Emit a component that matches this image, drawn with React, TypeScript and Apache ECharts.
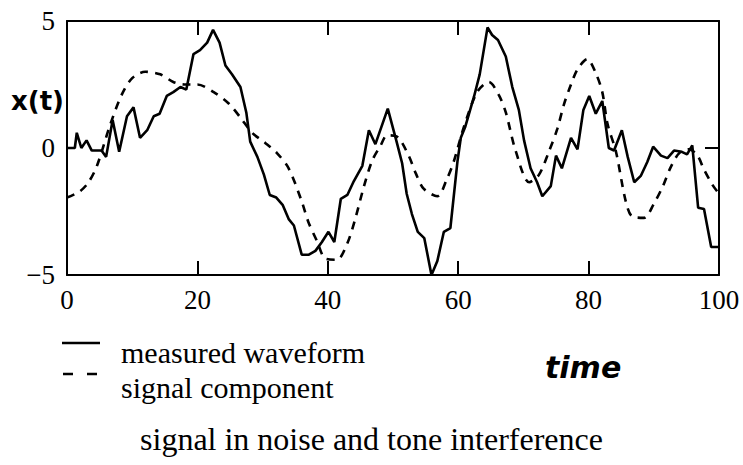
import React, { useEffect, useRef } from "react";
import * as echarts from "echarts";

const measuredT = [0, 1.2, 1.5, 2.2, 3, 3.8, 5.3, 6, 7, 8, 9.2, 10.2, 11.2, 12.3, 13.3, 14.2, 15.3, 16.3, 17.4, 18.3, 19.4, 20.4, 21.5, 22.4, 23.4, 24.3, 25.3, 26.6, 27.5, 28.1, 29.2, 30.2, 31.1, 32.1, 33.1, 34, 34.8, 36, 37.1, 38.1, 39.1, 40.1, 41, 42, 43, 44, 45.3, 46.3, 47.3, 49.2, 50.6, 51.4, 52.1, 52.9, 53.8, 54.8, 55.9, 56.8, 57.8, 58.8, 59.9, 60.4, 61.1, 62.4, 63.3, 64.5, 65.2, 66.1, 67.3, 68.3, 69.3, 70.1, 71.1, 72.1, 72.9, 74.2, 75, 75.9, 77.3, 78.3, 79.2, 80.1, 81.1, 82.1, 83.1, 83.9, 85.1, 86, 87, 88, 89, 89.9, 91.1, 92.1, 93.1, 94.3, 95.1, 95.9, 96.8, 97.7, 98.8, 100];
const measuredV = [0, 0, 0.6, 0, 0.3, -0.1, -0.1, -0.35, 1.1, -0.15, 1.25, 1.6, 0.4, 0.7, 1.25, 1.35, 2.05, 2.2, 2.4, 2.3, 3.7, 3.85, 4.15, 4.65, 4.15, 3.25, 2.9, 2.4, 1.4, 0.25, -0.35, -1.05, -1.85, -1.95, -2.25, -2.8, -3.05, -4.2, -4.2, -4.05, -3.7, -3.3, -3.7, -2.0, -1.85, -1.3, -0.7, 0.7, 0.15, 1.55, 0.2, -0.6, -1.8, -2.6, -3.3, -3.55, -5.0, -4.45, -3.3, -3.15, -0.5, 0.4, 0.85, 2.0, 2.9, 4.75, 4.45, 4.25, 3.6, 2.4, 1.5, 0.3, -0.8, -1.35, -1.9, -1.5, -0.3, -0.8, 0.4, -0.05, 1.5, 2.05, 1.35, 1.85, 0.0, -0.1, 0.7, -0.35, -1.35, -1.1, -0.55, 0.05, -0.3, -0.4, -0.1, -0.15, -0.25, 0.1, -2.35, -2.4, -3.9, -3.9];

const signalT = [0, 2, 3.3, 4.6, 6.6, 8.4, 10, 12, 14.3, 16.3, 18, 20, 22.5, 24.8, 26.6, 28.4, 30.4, 32.2, 34, 36, 37, 38.4, 39.6, 41.4, 43, 44.2, 45.5, 46.8, 48.1, 49.1, 50.6, 52.4, 53.5, 54.7, 56.8, 58.3, 59.3, 60.9, 62.9, 64.7, 66.2, 67.3, 68.8, 70.9, 72.4, 73.9, 75.2, 76.2, 77.3, 78.3, 79.8, 81.1, 82.1, 82.9, 84.2, 85.7, 86.7, 88.5, 90, 91.4, 92.6, 93.9, 95.4, 96.7, 97.7, 99, 100];
const signalV = [-1.95, -1.7, -1.35, -0.7, 0.9, 2.1, 2.75, 3.0, 2.9, 2.6, 2.5, 2.5, 2.2, 1.75, 1.2, 0.6, 0.2, -0.2, -0.8, -2.1, -2.9, -3.7, -4.35, -4.4, -3.75, -2.8, -1.55, -0.5, 0.1, 0.5, 0.45, -0.3, -1.0, -1.6, -1.9, -1.2, -0.55, 0.85, 2.2, 2.6, 2.1, 1.4, -0.1, -1.35, -1.05, -0.15, 0.75, 1.7, 2.5, 3.1, 3.5, 2.95, 2.2, 0.95, -0.15, -2.1, -2.7, -2.75, -2.2, -1.5, -0.75, -0.2, -0.05, -0.3, -0.85, -1.45, -1.8];

const xTicks = [0, 20, 40, 60, 80, 100];
const yTicks = [-5, 0, 5];

const legendNames = ["measured waveform", "signal component"];
const titleText = "signal in noise and tone interference";
const yName = "x(t)";
const xName = "time";

const serif = "'Liberation Serif', 'DejaVu Serif', serif";

export default function App() {
  const ref = useRef<HTMLDivElement>(null);
  useEffect(() => {
    if (!ref.current) return;
    const chart = echarts.init(ref.current, undefined, { renderer: "svg" });
    const measured = measuredT.map((t, i) => [t, measuredV[i]]);
    const signal = signalT.map((t, i) => [t, signalV[i]]);
    const axisLine = { show: true, onZero: false, lineStyle: { color: "#000", width: 2 } };
    const tick = { show: true, inside: true, length: 14, lineStyle: { color: "#000", width: 2 } };
    chart.setOption({
      animation: false,
      backgroundColor: "#fff",
      title: {
        text: titleText,
        left: "center",
        top: 418,
        textStyle: { fontFamily: serif, fontSize: 32, fontWeight: "normal", color: "#000" },
      },
      grid: { left: 67, right: 24, top: 21, bottom: 190, containLabel: false },
      xAxis: [
        {
          type: "value",
          min: xTicks[0],
          max: xTicks[xTicks.length - 1],
          interval: 20,
          position: "bottom",
          axisLine,
          axisTick: tick,
          splitLine: { show: false },
          axisLabel: { color: "#000", fontFamily: serif, fontSize: 27, margin: 11 },
        },
        {
          type: "value",
          min: xTicks[0],
          max: xTicks[xTicks.length - 1],
          interval: 20,
          position: "top",
          axisLine,
          axisTick: tick,
          splitLine: { show: false },
          axisLabel: { show: false },
        },
      ],
      yAxis: [
        {
          type: "value",
          min: yTicks[0],
          max: yTicks[yTicks.length - 1],
          interval: 5,
          position: "left",
          axisLine,
          axisTick: { show: false },
          splitLine: { show: false },
          axisLabel: {
            color: "#000",
            fontFamily: serif,
            fontSize: 27,
            margin: 12,
            formatter: (v: number) => (v < 0 ? "\u2212" + Math.abs(v) : String(v)),
          },
        },
        {
          type: "value",
          min: yTicks[0],
          max: yTicks[yTicks.length - 1],
          interval: 5,
          position: "right",
          axisLine,
          axisTick: tick,
          splitLine: { show: false },
          axisLabel: { show: false },
        },
      ],
      series: [
        {
          name: legendNames[0],
          type: "line",
          data: measured,
          showSymbol: false,
          symbol: "none",
          lineStyle: { color: "#000", width: 2.6, type: "solid" },
        },
        {
          name: legendNames[1],
          type: "line",
          data: signal,
          showSymbol: false,
          symbol: "none",
          smooth: 0.3,
          lineStyle: { color: "#000", width: 2.6, type: [8, 7] },
        },
      ],
      graphic: [
        { type: "line", shape: { x1: 62, y1: 343, x2: 100, y2: 343 }, style: { stroke: "#000", lineWidth: 2.6 } },
        { type: "line", shape: { x1: 63, y1: 374, x2: 99, y2: 374 }, style: { stroke: "#000", lineWidth: 2.6, lineDash: [10, 14] } },
        { type: "text", x: 121, y: 352, style: { text: legendNames[0], font: `30px ${serif}`, fill: "#000", textVerticalAlign: "middle" } },
        { type: "text", x: 121, y: 387, style: { text: legendNames[1], font: `30px ${serif}`, fill: "#000", textVerticalAlign: "middle" } },
        { type: "text", x: 545, y: 367, style: { text: xName, font: `italic bold 30px 'DejaVu Sans', sans-serif`, fill: "#000", textVerticalAlign: "middle" } },
        { type: "text", x: 11, y: 101, style: { text: yName, font: `bold 26px 'DejaVu Sans', sans-serif`, fill: "#000", textVerticalAlign: "middle" } },
      ],
    });
    return () => chart.dispose();
  }, []);
  return <div ref={ref} style={{ position: "fixed", left: 0, top: 0, width: 743, height: 465 }} />;
}
